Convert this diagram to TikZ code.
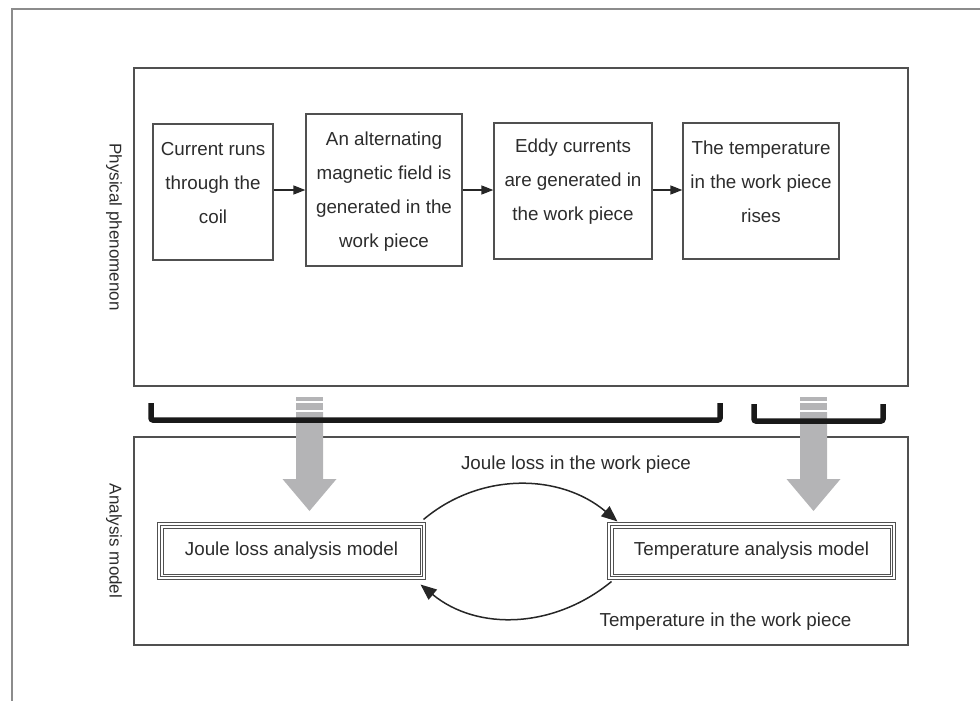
\documentclass[tikz,border=0pt]{standalone}
\usepackage{fontspec}
\setmainfont{Liberation Sans}
\usetikzlibrary{arrows.meta,calc}
\definecolor{txt}{HTML}{2C2C2C}
\definecolor{ln}{HTML}{505050}
\definecolor{frm}{HTML}{8C8C8C}
\definecolor{garr}{HTML}{B4B4B6}
\newcommand\grayarr[1]{%
  \fill[garr] ({#1-13.5},397) rectangle ({#1+13.5},401);
  \fill[garr] ({#1-13.5},403) rectangle ({#1+13.5},410);
  \fill[garr] ({#1-13.5},412) -- ({#1+13.5},412) -- ({#1+13.5},479) -- ({#1+27},479)
     -- (#1,511) -- ({#1-27},479) -- ({#1-13.5},479) -- cycle;}
\begin{document}
\begin{tikzpicture}[x=1pt,y=-1pt,
  font=\fontsize{18.8}{34}\selectfont, text=txt,
  pbox/.style={draw=ln, line width=1.3pt, rectangle, inner sep=0pt},
  ptext/.style={align=center, inner sep=0pt},
  arr/.style={-{Triangle[length=12pt,width=9pt]}, line width=1.4pt, draw=black!85},
  carr/.style={-{Triangle[length=16pt,width=13pt]}, line width=1.5pt, draw=black!85},
  mbox/.style={draw=ln, line width=1pt, double=white, double distance=1.2pt, rectangle, inner sep=0pt, minimum height=54pt},
  panel/.style={draw=ln, line width=1.3pt},
  brk/.style={line width=5.5pt, draw=black!90, rounded corners=2pt},
  side/.style={rotate=-90, inner sep=0pt, font=\fontsize{17}{20}\selectfont}
]
\useasboundingbox (0,0) rectangle (980,701);
% outer frame
\draw[frm, line width=2pt] (12,701) -- (12,9) -- (980,9);
% panels
\draw[panel] (134,68) rectangle (908,386);
\draw[panel] (134,437) rectangle (908,645);
\node[side] (lp) at (114,227) {Physical phenomenon};
\node[side] (la) at (114,541) {Analysis model};
% top process boxes
\node[pbox, minimum width=120pt, minimum height=136pt] (b1) at (213,192) {};
\node[pbox, minimum width=156pt, minimum height=152pt] (b2) at (384,190) {};
\node[pbox, minimum width=158pt, minimum height=136pt] (b3) at (573,191) {};
\node[pbox, minimum width=156pt, minimum height=136pt] (b4) at (761,191) {};
\node[ptext] (t1) at (213,183) {Current runs\\through the\\coil};
\node[ptext] (t2) at (384,192) {An alternating\\magnetic field is\\generated in the\\work piece};
\node[ptext] (t3) at (573,182) {Eddy currents\\are generated in\\the work piece};
\node[ptext] (t4) at (761,182) {The temperature\\in the work piece\\rises};
\draw[arr] (b1.east |- 0,190) -- (b2.west |- 0,190);
\draw[arr] (b2.east |- 0,190) -- (b3.west |- 0,190);
\draw[arr] (b3.east |- 0,190) -- (b4.west |- 0,190);
% gray arrows and brackets
\grayarr{309.5}
\grayarr{813.5}
\draw[brk] (151,403) -- (151,420) -- (720,420) -- (720,403);
\draw[brk] (754,404) -- (754,421) -- (883,421) -- (883,404);
% analysis models
\node[mbox, minimum width=265pt] (jl) at (291.5,551) {Joule loss analysis model};
\node[mbox, minimum width=285pt] (tm) at (751.5,551) {Temperature analysis model};
\draw[ln, line width=0.8pt] ($(jl.north west)+(4.5,4.5)$) rectangle ($(jl.south east)+(-4.5,-4.5)$);
\draw[ln, line width=0.8pt] ($(tm.north west)+(4.5,4.5)$) rectangle ($(tm.south east)+(-4.5,-4.5)$);
\coordinate (js) at ($(jl.north east)+(-1,-4)$);
\coordinate (te) at ($(tm.north west)+(9,-2)$);
\coordinate (ts) at ($(tm.south west)+(3,3)$);
\coordinate (je) at ($(jl.south east)+(-4,6)$);
\draw[carr] (js) .. controls +(57,-48) and +(-57,-48) .. (te);
\draw[carr] (ts) .. controls +(-57,47) and +(57,47) .. (je);
\node[inner sep=0pt] (lj) at (576,465) {Joule loss in the work piece};
\node[inner sep=0pt] (lt) at (725.5,622) {Temperature in the work piece};
\end{tikzpicture}
\end{document}
